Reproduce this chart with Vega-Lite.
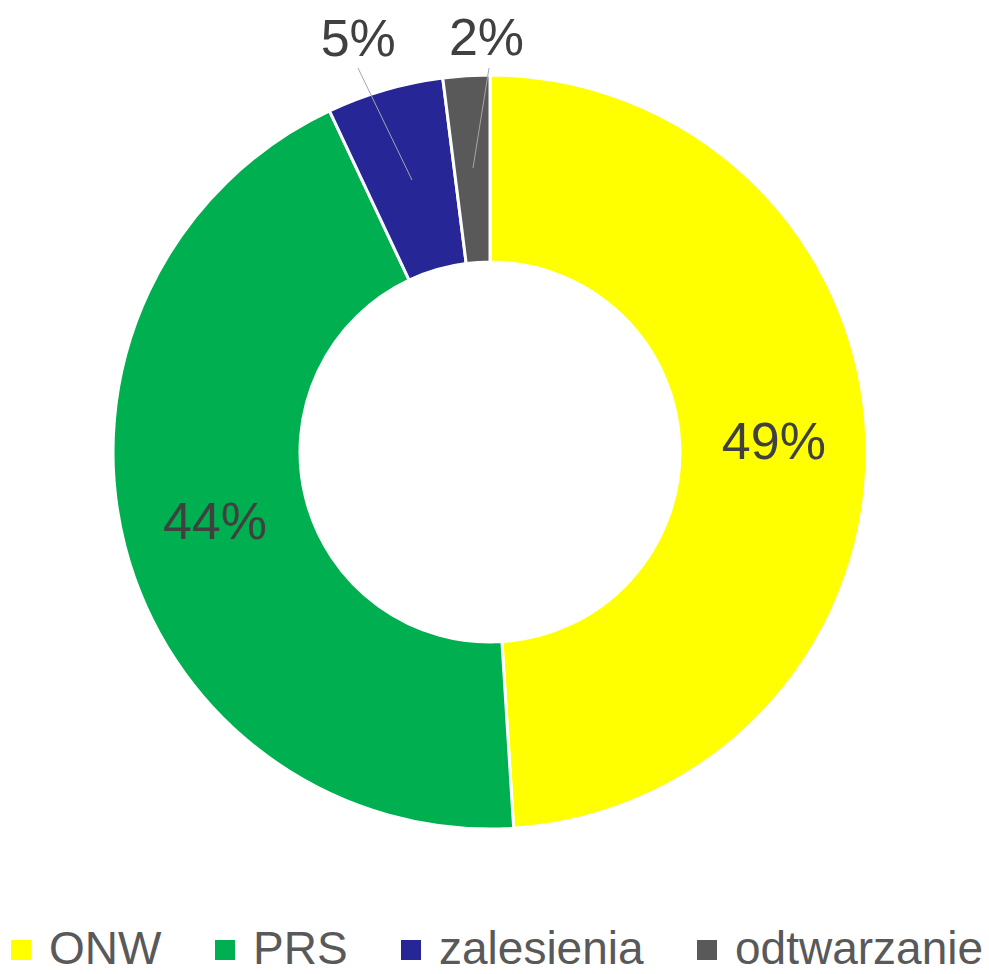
{
  "$schema": "https://vega.github.io/schema/vega-lite/v6.json",
  "width": 980,
  "height": 904,
  "autosize": "none",
  "padding": {"left": 0, "top": 0, "right": 9, "bottom": 70},
  "background": "white",
  "config": {"view": {"stroke": null}},
  "datasets": {
    "shares": [
      {"category": "ONW", "share": 49, "idx": 1, "label": "49%"},
      {"category": "PRS", "share": 44, "idx": 2, "label": "44%"},
      {"category": "zalesienia", "share": 5, "idx": 3, "label": "5%"},
      {"category": "odtwarzanie", "share": 2, "idx": 4, "label": "2%"}
    ],
    "leaders": [
      {"x1": -132, "y1": 384, "x2": -78, "y2": 272},
      {"x1": -1, "y1": 384, "x2": -17, "y2": 284}
    ]
  },
  "layer": [
    {
      "data": {"name": "shares"},
      "mark": {"type": "arc", "outerRadius": 377, "innerRadius": 190, "stroke": "white", "strokeWidth": 3},
      "encoding": {
        "theta": {"field": "share", "type": "quantitative", "stack": true, "scale": {"domain": [0, 100]}},
        "order": {"field": "idx", "type": "quantitative"},
        "color": {
          "field": "category",
          "type": "nominal",
          "sort": ["ONW", "PRS", "zalesienia", "odtwarzanie"],
          "scale": {"domain": ["ONW", "PRS", "zalesienia", "odtwarzanie"], "range": ["#FFFF00", "#00B050", "#262696", "#595959"]},
          "legend": {
            "title": null,
            "orient": "none",
            "direction": "horizontal",
            "legendX": -2,
            "legendY": 927,
            "symbolType": "square",
            "symbolSize": 400,
            "symbolStrokeWidth": 0,
            "labelFont": "Liberation Sans",
            "labelFontSize": 46,
            "labelColor": "#595959",
            "labelOffset": 5,
            "columnPadding": 40,
            "labelLimit": 400
          }
        }
      }
    },
    {
      "data": {"name": "shares"},
      "mark": {"type": "text", "radius": 284, "font": "Liberation Sans", "fontSize": 52, "color": "#404040", "align": "center", "baseline": "middle"},
      "encoding": {
        "theta": {"field": "share", "type": "quantitative", "stack": true, "scale": {"domain": [0, 100]}},
        "order": {"field": "idx", "type": "quantitative"},
        "text": {"condition": {"test": "datum.share >= 10", "field": "label"}, "value": ""}
      }
    },
    {
      "data": {"name": "shares"},
      "mark": {"type": "text", "radius": 422, "dx": -14, "dy": -7, "font": "Liberation Sans", "fontSize": 52, "color": "#404040", "align": "center", "baseline": "middle"},
      "encoding": {
        "theta": {"field": "share", "type": "quantitative", "stack": true, "scale": {"domain": [0, 100]}},
        "order": {"field": "idx", "type": "quantitative"},
        "text": {"condition": {"test": "datum.category === 'zalesienia'", "field": "label"}, "value": ""}
      }
    },
    {
      "data": {"name": "shares"},
      "mark": {"type": "text", "radius": 422, "dx": 23, "dy": 8, "font": "Liberation Sans", "fontSize": 52, "color": "#404040", "align": "center", "baseline": "middle"},
      "encoding": {
        "theta": {"field": "share", "type": "quantitative", "stack": true, "scale": {"domain": [0, 100]}},
        "order": {"field": "idx", "type": "quantitative"},
        "text": {"condition": {"test": "datum.category === 'odtwarzanie'", "field": "label"}, "value": ""}
      }
    },
    {
      "data": {"name": "leaders"},
      "mark": {"type": "rule", "color": "#A6A6A6", "strokeWidth": 1},
      "encoding": {
        "x": {"field": "x1", "type": "quantitative", "scale": {"domain": [-490, 490]}, "axis": null},
        "y": {"field": "y1", "type": "quantitative", "scale": {"domain": [-452, 452]}, "axis": null},
        "x2": {"field": "x2"},
        "y2": {"field": "y2"}
      }
    }
  ],
  "resolve": {"scale": {"theta": "shared"}}
}
